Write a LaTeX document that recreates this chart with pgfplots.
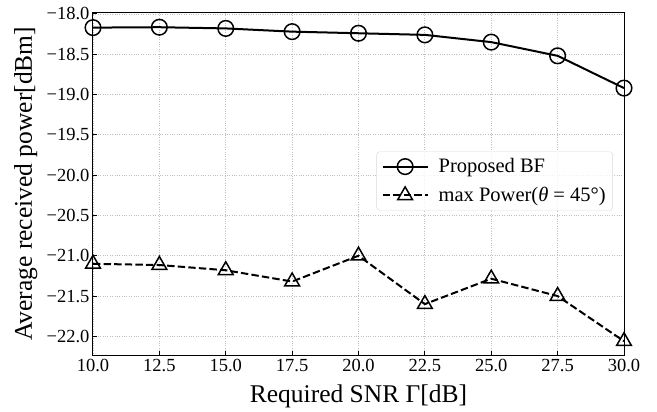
\documentclass[border=0pt]{standalone}
\usepackage{pgfplots}
\pgfplotsset{compat=1.18}
\usepackage{fontspec}
\setmainfont{Liberation Serif}

\begin{document}
\begin{tikzpicture}
\begin{axis}[
name=ax,
scale only axis,
width=531bp, height=343bp,
xmin=10, xmax=30,
ymin=-22.235, ymax=-17.98,
xtick={10,12.5,15,17.5,20,22.5,25,27.5,30},
xticklabels={10.0,12.5,15.0,17.5,20.0,22.5,25.0,27.5,30.0},
ytick={-22,-21.5,-21,-20.5,-20,-19.5,-19,-18.5,-18},
yticklabels={−22.0,−21.5,−21.0,−20.5,−20.0,−19.5,−19.0,−18.5,−18.0},
tick label style={font=\fontsize{18.5bp}{20bp}\selectfont},
label style={font=\fontsize{25.5bp}{28bp}\selectfont},
xlabel={Required SNR Γ[dB]},
ylabel={Average received power[dBm]},
xlabel style={at={(axis description cs:0.5,-0.138)}, anchor=base},
ylabel style={at={(axis description cs:-0.115,0.5)}, anchor=base},
tick align=inside,
xtick pos=bottom, ytick pos=left,
major tick length=4bp,
tick style={black, line width=1bp},
axis line style={line width=1bp},
grid=major,
major grid style={gray!50, dotted, line width=0.8bp},
legend style={at={(0.979,0.594)}, anchor=north east,
  font=\fontsize{20.5bp}{24bp}\selectfont,
  draw=gray!30, rounded corners=3pt, fill=white, fill opacity=0.8, text opacity=1,
  inner xsep=5bp, inner ysep=5bp, row sep=9bp, column sep=8bp},
legend cell align=left,
legend image code/.code={\draw[mark repeat=2,mark phase=2] plot coordinates {(0bp,0bp)(22.5bp,0bp)(45bp,0bp)};},
]
\addplot[black, line width=2bp, mark=o, mark size=7.8bp, mark options={solid, line width=1.5bp, fill=none}] coordinates {
(10,-18.17) (12.5,-18.165) (15,-18.18) (17.5,-18.22) (20,-18.24)
(22.5,-18.26) (25,-18.35) (27.5,-18.52) (30,-18.92)
};
\addlegendentry{Proposed BF}
\addplot[black, line width=2bp, dash pattern=on 7.4bp off 3.2bp, mark=triangle, mark size=8.5bp, mark options={solid, line width=1.5bp, fill=none}] coordinates {
(10,-21.10) (12.5,-21.115) (15,-21.18) (17.5,-21.32) (20,-21.0)
(22.5,-21.60) (25,-21.285) (27.5,-21.50) (30,-22.06)
};
\addlegendentry{max Power(\textit{θ} = 45°)}
\end{axis}
\pgfresetboundingbox
\path ([xshift=-93bp,yshift=-56.3bp]ax.south west) rectangle ([xshift=33bp,yshift=12.3bp]ax.north east);
\end{tikzpicture}
\end{document}
